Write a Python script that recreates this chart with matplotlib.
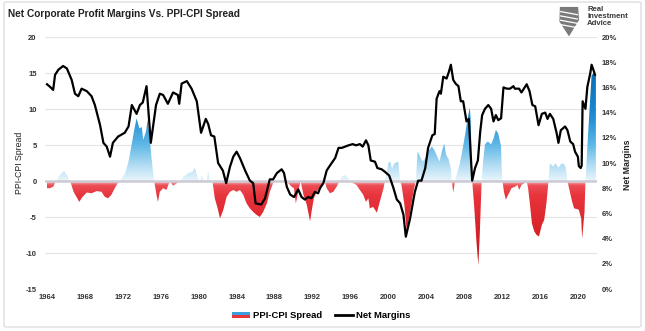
import numpy as np
import matplotlib
matplotlib.use("Agg")
import matplotlib.pyplot as plt
from matplotlib.patches import Polygon, Rectangle, FancyBboxPatch
from matplotlib.lines import Line2D
from matplotlib.legend_handler import HandlerBase
from matplotlib.colors import to_rgb

plt.rcParams['font.family'] = ['Liberation Sans', 'DejaVu Sans']

# ---- Net corporate profit margins (%), right axis ----
margin_years = [
    1964.0, 1964.3, 1964.65, 1964.85, 1965.2, 1965.7, 1966.1, 1966.6, 1966.95, 1967.3,
    1967.65, 1968.2, 1968.7, 1969.05, 1969.6, 1969.95, 1970.3, 1970.65, 1970.95, 1971.5,
    1972.2, 1972.6, 1972.95, 1973.45, 1973.8, 1974.1, 1974.5, 1974.95, 1975.5, 1975.9,
    1976.25, 1976.75, 1977.3, 1977.8, 1977.95, 1978.2, 1978.75, 1979.25, 1979.8, 1980.25,
    1980.75, 1981.0, 1981.3, 1981.65, 1982.05, 1982.55, 1982.9, 1983.3, 1983.65, 1984.0,
    1984.35, 1984.9, 1985.4, 1985.75, 1986.0, 1986.6, 1987.0, 1987.5, 1987.85, 1988.25,
    1988.75, 1989.0, 1989.3, 1989.65, 1990.05, 1990.5, 1990.85, 1991.2, 1991.55, 1991.9,
    1992.25, 1992.6, 1992.8, 1993.15, 1993.5, 1993.85, 1994.4, 1994.75, 1995.1, 1995.45,
    1995.8, 1996.25, 1996.6, 1997.0, 1997.3, 1997.65, 1997.9, 1998.15, 1998.6, 1998.85,
    1999.3, 1999.65, 2000.1, 2000.55, 2000.9, 2001.25, 2001.6, 2001.85, 2002.3, 2002.8,
    2003.15, 2003.5, 2003.9, 2004.2, 2004.65, 2004.9, 2005.1, 2005.4, 2005.55, 2005.8,
    2006.15, 2006.4, 2006.6, 2006.85, 2007.1, 2007.4, 2007.65, 2007.9, 2008.25, 2008.5,
    2008.7, 2008.85, 2009.15, 2009.45, 2009.7, 2009.9, 2010.2, 2010.55, 2010.85, 2011.1,
    2011.35, 2011.6, 2011.9, 2012.15, 2012.5, 2012.85, 2013.2, 2013.35, 2013.8, 2014.05,
    2014.6, 2014.9, 2015.2, 2015.5, 2015.85, 2016.2, 2016.55, 2016.8, 2017.05, 2017.4,
    2017.75, 2017.95, 2018.2, 2018.65, 2018.9, 2019.2, 2019.5, 2019.7, 2020.0, 2020.1,
    2020.3, 2020.4, 2020.5, 2020.8, 2021.0, 2021.3, 2021.45, 2021.7, 2021.8,
]
margin_pct = [
    16.25, 16.06, 15.8, 17.0, 17.4, 17.7, 17.5, 16.6, 15.5, 15.3,
    15.9, 15.7, 15.3, 14.6, 13.0, 11.6, 11.3, 10.5, 11.6, 12.1,
    12.4, 12.9, 14.6, 13.9, 14.6, 14.8, 16.1, 11.6, 14.6, 15.5,
    15.4, 14.7, 15.6, 15.4, 14.7, 16.3, 16.5, 15.9, 14.9, 12.4,
    13.5, 13.1, 12.2, 12.1, 10.0, 9.4, 8.4, 9.7, 10.5, 10.9,
    10.4, 9.4, 8.6, 8.4, 6.8, 6.7, 7.2, 8.7, 8.7, 9.2,
    9.5, 9.2, 8.1, 7.5, 7.3, 7.9, 7.3, 7.1, 7.3, 7.2,
    7.7, 7.6, 8.0, 8.4, 9.4, 9.8, 10.4, 11.2, 11.2, 11.3,
    11.4, 11.5, 11.4, 11.5, 11.3, 11.8, 11.4, 10.2, 10.1, 9.6,
    9.5, 9.3, 9.0, 8.0, 7.1, 6.8, 5.9, 4.15, 5.6, 7.7,
    8.6, 8.6, 9.6, 11.2, 12.2, 12.3, 15.1, 15.7, 15.5, 16.85,
    16.7, 17.25, 17.8, 16.6, 16.3, 16.1, 14.9, 14.9, 13.3, 13.5,
    10.6, 8.6, 9.6, 10.2, 12.5, 13.8, 14.3, 14.6, 14.3, 13.3,
    13.8, 13.4, 13.55, 16.0, 15.9, 15.9, 16.1, 15.9, 15.9, 15.6,
    16.25, 15.7, 14.6, 14.5, 13.0, 13.9, 14.0, 13.5, 13.9, 13.5,
    12.4, 11.6, 12.6, 12.9, 12.6, 11.7, 11.5, 10.9, 10.5, 9.75,
    9.6, 9.8, 14.9, 14.3, 16.05, 17.1, 17.8, 17.25, 17.0,
]

# ---- PPI minus CPI spread (percentage points), left axis ----
spread_years = [
    1964.0, 1964.3, 1964.65, 1965.0, 1965.35, 1965.8, 1966.1, 1966.45, 1966.8, 1967.15,
    1967.4, 1967.75, 1968.2, 1968.7, 1969.25, 1969.75, 1970.1, 1970.45, 1970.8, 1971.15,
    1971.5, 1971.9, 1972.25, 1972.6, 1972.95, 1973.2, 1973.45, 1973.75, 1974.0, 1974.15,
    1974.45, 1974.6, 1974.8, 1975.05, 1975.3, 1975.55, 1975.7, 1975.9, 1976.25, 1976.6,
    1976.95, 1977.3, 1977.7, 1978.05, 1978.4, 1978.9, 1979.35, 1979.6, 1979.9, 1980.15,
    1980.3, 1980.6, 1980.85, 1981.0, 1981.2, 1981.45, 1981.7, 1982.0, 1982.25, 1982.6,
    1982.95, 1983.3, 1983.65, 1984.0, 1984.35, 1984.7, 1985.05, 1985.4, 1985.75, 1986.1,
    1986.45, 1986.8, 1987.2, 1987.5, 1987.85, 1988.15, 1988.9, 1989.45, 1989.8, 1990.05,
    1990.25, 1990.5, 1990.75, 1991.05, 1991.4, 1991.75, 1991.9, 1992.15, 1992.45, 1992.8,
    1993.15, 1993.3, 1993.5, 1993.85, 1994.2, 1994.55, 1994.85, 1995.1, 1995.45, 1995.8,
    1995.95, 1996.3, 1996.65, 1997.0, 1997.35, 1997.65, 1997.9, 1998.05, 1998.4, 1998.8,
    1999.1, 1999.5, 1999.65, 1999.85, 2000.0, 2000.2, 2000.4, 2000.65, 2000.9, 2001.05,
    2001.25, 2001.4, 2001.7, 2001.95, 2002.3, 2002.65, 2002.9, 2003.1, 2003.35, 2003.6,
    2003.9, 2004.2, 2004.6, 2004.85, 2005.1, 2005.4, 2005.65, 2005.9, 2006.1, 2006.35,
    2006.6, 2006.7, 2006.85, 2007.05, 2007.3, 2007.55, 2007.8, 2008.1, 2008.35, 2008.6,
    2008.7, 2008.85, 2009.05, 2009.3, 2009.5, 2009.65, 2009.85, 2010.0, 2010.2, 2010.5,
    2010.85, 2011.1, 2011.35, 2011.6, 2011.9, 2011.95, 2012.05, 2012.2, 2012.4, 2012.65,
    2013.0, 2013.35, 2013.65, 2013.8, 2014.05, 2014.35, 2014.6, 2014.75, 2014.95, 2015.15,
    2015.4, 2015.65, 2015.9, 2016.2, 2016.45, 2016.7, 2016.9, 2017.05, 2017.4, 2017.65,
    2017.95, 2018.2, 2018.45, 2018.7, 2018.9, 2019.15, 2019.4, 2019.6, 2019.9, 2020.1,
    2020.35, 2020.45, 2020.7, 2020.8, 2021.05, 2021.3, 2021.45, 2021.7, 2021.8, 2021.9,
]
spread_vals = [
    -1.0, -1.0, -0.8, 0.1, 0.8, 1.4, 0.8, 0.0, -1.5, -2.3,
    -2.9, -2.2, -1.6, -1.7, -1.4, -1.5, -2.2, -2.4, -1.9, -1.0,
    -0.2, 0.4, 1.1, 2.7, 5.2, 7.1, 8.7, 7.3, 7.5, 5.7,
    6.9, 8.5, 6.5, 2.9, 0.0, -1.9, -2.9, -1.5, -1.0, -1.25,
    0.0, -0.65, -0.3, 0.0, 0.6, 1.1, 1.3, 1.85, 0.4, 0.0,
    0.8, 0.0, 0.1, 1.3, 0.0, 0.0, -2.4, -3.8, -5.2, -4.0,
    -2.2, -1.5, -1.25, -1.5, -1.25, -1.9, -3.1, -3.8, -4.3, -4.7,
    -5.0, -4.3, -3.1, -1.5, -0.3, 0.0, 0.0, -0.3, -0.8, -1.0,
    -3.1, -1.5, 0.0, -1.9, -3.3, -5.6, -4.3, -2.4, -1.5, -0.8,
    -0.3, 0.0, -1.0, -1.7, -1.5, -0.8, 0.0, 0.6, 0.8, 0.4,
    0.0, -0.3, -0.55, -1.25, -1.9, -2.9, -2.4, -3.8, -3.6, -4.4,
    -2.9, -1.0, 0.0, 1.1, 2.5, 2.7, 1.75, 2.45, 2.6, 2.7,
    0.0, -0.6, -3.3, -7.0, -4.3, -1.5, 0.0, 4.1, 3.4, 2.7,
    3.1, 4.1, 4.8, 4.3, 3.6, 2.7, 4.1, 5.2, 3.6, 3.1,
    1.75, 0.0, -1.6, 0.0, 1.3, 2.45, 4.1, 6.4, 8.5, 10.2,
    8.3, 0.0, -3.3, -8.4, -11.7, -7.4, 0.0, 2.7, 5.1, 5.5,
    5.1, 5.9, 7.1, 6.6, 4.8, 2.2, 0.0, -1.5, -2.6, -1.9,
    -1.0, -0.8, -0.55, -1.25, -0.55, -0.3, 0.0, -1.0, -3.3, -5.9,
    -7.0, -7.5, -7.7, -6.1, -5.4, -2.9, 0.0, 2.45, 2.0, 2.45,
    1.85, 2.3, 2.45, 2.0, 0.0, -1.5, -2.9, -3.8, -3.9, -4.0,
    -5.2, -8.0, -4.3, 0.0, 5.9, 11.5, 14.7, 15.0, 14.7, 14.7,
]

year_ticks = list(range(1964, 2021, 4))
left_ticks = [20, 15, 10, 5, 0, -5, -10, -15]
right_ticks = list(range(0, 21, 2))

# gradient colour stops for the spread area (value, colour)
blue_stops = [(0, '#eaf6fd'), (2, '#b8dff4'), (5, '#60b8e7'), (9, '#1f8bd0'), (15, '#0a6cb8'), (20, '#0a6cb8')]
red_stops = [(-15, '#bd121a'), (-12, '#bf141b'), (-7, '#d8222a'), (-2, '#e8343c'), (-0.6, '#ec4d55'), (0, '#f4c6c9')]

W, H = 645, 331
fig = plt.figure(figsize=(W / 100, H / 100), dpi=100)
fig.patch.set_facecolor('white')

# outer frame
fig.patches.append(FancyBboxPatch((4 / W, 4 / H), 637 / W, 325 / H,
                                  boxstyle='round,pad=0,rounding_size=0.004',
                                  transform=fig.transFigure, facecolor='none',
                                  edgecolor='#dedede', lw=1.0))

ax_left, ax_right, ax_top, ax_bot = 45, 597, 37, 289
ax = fig.add_axes([ax_left / W, (H - ax_bot) / H, (ax_right - ax_left) / W, (ax_bot - ax_top) / H])
xmin = 1964 + (ax_left - 47) / 9.48
xmax = 1964 + (ax_right - 47) / 9.48

for s in ax.spines.values():
    s.set_visible(False)
for t in left_ticks:
    ax.axhline(t, color='#e4e4e4', lw=0.8, zorder=0)

# spread area: one polygon used as clip path for a vertical colour gradient
sx = np.asarray(spread_years)
sy = np.asarray(spread_vals)
verts = np.column_stack([np.r_[sx[0], sx, sx[-1]], np.r_[0, sy, 0]])
clip_poly = Polygon(verts, closed=True, facecolor='none', edgecolor='none', transform=ax.transData)
ax.add_patch(clip_poly)

vals = np.linspace(20, -15, 900)
def stops_to_rgb(stops, v):
    xs = [p[0] for p in stops]
    cs = np.array([to_rgb(p[1]) for p in stops])
    return np.stack([np.interp(v, xs, cs[:, i]) for i in range(3)], axis=-1)
rgb = np.where((vals >= 0)[:, None], stops_to_rgb(blue_stops, vals), stops_to_rgb(red_stops, vals))
img = ax.imshow(rgb[:, None, :], extent=[sx[0], sx[-1], -15, 20], aspect='auto',
                origin='upper', interpolation='bilinear', zorder=1)
img.set_clip_path(clip_poly)

ax.axhline(0, color='#cdcad4', lw=1.8, zorder=2)

ax.set_xlim(xmin, xmax)
ax.set_ylim(-15, 20)
ax.set_yticks(left_ticks)
ax.set_yticklabels([str(t) for t in left_ticks])
ax.set_xticks(year_ticks)
ax.set_xticklabels([str(y) for y in year_ticks])
ax.tick_params(axis='both', length=0, labelsize=5.5, colors='#333333')
ax.tick_params(axis='y', pad=6)
ax.tick_params(axis='x', pad=3.5)
for lbl in ax.get_xticklabels() + ax.get_yticklabels():
    lbl.set_fontweight('bold')

# net margins line on the right axis
ax2 = ax.twinx()
for s in ax2.spines.values():
    s.set_visible(False)
ax2.plot(margin_years, margin_pct, color='black', lw=1.6, solid_joinstyle='round', zorder=5)
ax2.set_ylim(0, 20)
ax2.set_xlim(xmin, xmax)
ax2.set_yticks(right_ticks)
ax2.set_yticklabels([f"{t}%" for t in right_ticks])
ax2.tick_params(axis='y', length=0, labelsize=5.5, colors='#333333', pad=3.5)
for lbl in ax2.get_yticklabels():
    lbl.set_fontweight('bold')

# axis titles
fig.text(20 / W, 1 - 163 / H, 'PPI-CPI Spread', rotation=90, ha='center', va='center',
         fontsize=6.3, color='#222222')
fig.text(627 / W, 1 - 165 / H, 'Net Margins', rotation=90, ha='center', va='center',
         fontsize=6.3, fontweight='bold', color='#222222')

# title
fig.text(8 / W, 1 - 14 / H, 'Net Corporate Profit Margins Vs. PPI-CPI Spread',
         ha='left', va='center', fontsize=7.3, fontweight='bold', color='#222222')

# brand mark
lax = fig.add_axes([557 / W, 1 - 37 / H, 24 / W, 31 / H])
lax.set_xlim(0, 1)
lax.set_ylim(0, 1)
lax.axis('off')
shield = Polygon([(0.12, 0.97), (0.88, 0.97), (0.92, 0.55), (0.5, 0.02), (0.1, 0.5)],
                 closed=True, facecolor='#7a7a7a', edgecolor='none')
lax.add_patch(shield)
for yy in (0.82, 0.68, 0.54, 0.40):
    lax.plot([0.15, 0.85], [yy, yy - 0.1], color='white', lw=0.9)
fig.text(587 / W, 1 - 6 / H, 'Real\nInvestment\nAdvice', ha='left', va='top',
         fontsize=5.6, fontweight='bold', color='#3a3a3a', linespacing=1.0)

# legend
class SplitSwatch(HandlerBase):
    def create_artists(self, legend, orig_handle, xdescent, ydescent, width, height, fontsize, trans):
        top = Rectangle((-xdescent, -ydescent + height * 0.5), width, height * 0.45,
                        facecolor='#3aa0dd', edgecolor='none', transform=trans)
        bot = Rectangle((-xdescent, -ydescent + height * 0.05), width, height * 0.45,
                        facecolor='#e8343c', edgecolor='none', transform=trans)
        return [top, bot]

swatch = Rectangle((0, 0), 1, 1)
line_handle = Line2D([], [], color='black', lw=2)
fig.legend([swatch, line_handle], ['PPI-CPI Spread', 'Net Margins'],
           handler_map={Rectangle: SplitSwatch()},
           loc='center', bbox_to_anchor=((ax_left + ax_right) / 2 / W, 1 - 316 / H),
           ncol=2, frameon=False, prop={'size': 6.8, 'weight': 'bold'},
           handlelength=1.9, handletextpad=0.3, columnspacing=1.4, handleheight=0.7)

fig.savefig('out.png', dpi=100)
